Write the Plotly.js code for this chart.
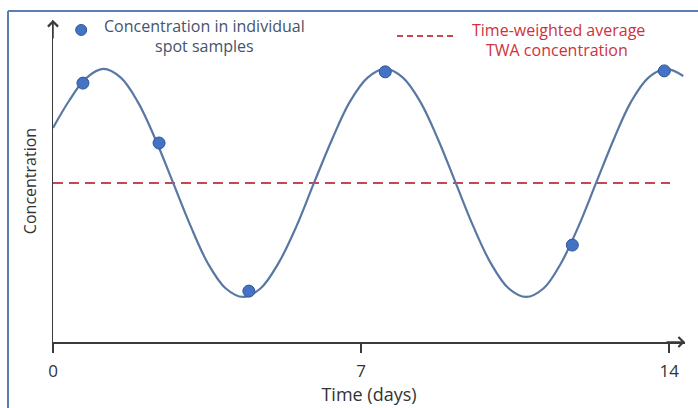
<!DOCTYPE html>
<html>
<head>
<meta charset="utf-8">
<script src="https://cdn.plot.ly/plotly-3.0.1.min.js"></script>
<style>
html,body{margin:0;padding:0;background:#fff;}
#chart{width:698px;height:408px;}
</style>
</head>
<body>
<div id="chart"></div>
<script>
// Continuous concentration curve (time in days, concentration in arbitrary units)
const curveDays = [0.00, 0.37, 0.74, 1.14, 1.54, 1.93, 2.33, 2.73, 3.13, 3.52, 3.92, 4.32,
                   4.72, 5.12, 5.53, 5.93, 6.34, 6.74, 7.15, 7.55,
                   7.95, 8.35, 8.75, 9.15, 9.55, 9.95, 10.35, 10.75,
                   11.15, 11.54, 11.94, 12.34, 12.74, 13.13, 13.53, 13.93, 14.32];
const curveConc = [66.5, 75.0, 81.8, 84.8, 82.1, 74.5, 62.9, 49.4, 35.9, 24.4, 16.7, 14.0,
                   16.7, 24.4, 35.9, 49.4, 62.9, 74.5, 82.1, 84.8,
                   82.1, 74.5, 62.9, 49.4, 35.9, 24.4, 16.7, 14.0,
                   16.7, 24.4, 35.9, 49.4, 62.9, 74.5, 82.1, 84.8, 82.6];

// Individual spot samples
const sampleDays = [0.68, 2.41, 4.45, 7.55, 11.80, 13.89];
const sampleConc = [80.4, 61.8, 15.8, 83.9, 30.1, 84.2];

// Time-weighted average
const twaDays = [0, 14.02];
const twaConc = [49.4, 49.4];

// Axis ticks
const tickVals = [0, 7, 14];
const tickText = ['0', '7', '14'];

// Legend marker sample position
const legendMarkerDay = [0.64];
const legendMarkerConc = [96.9];

const xMax = 14.36;
const yMax = 100;

const FONT = '"Open Sans", Lato, sans-serif';
const H = 408, T = 20, B = 66, L = 53, R = 13;
const py = p => 1 - (p - T) / (H - T - B);   // pixel row -> paper y
const px = p => (p - L) / (698 - L - R);      // pixel col -> paper x

const traces = [
  {
    x: twaDays, y: twaConc, type: 'scatter', mode: 'lines',
    line: {color: '#c9454f', width: 2, dash: '10px,6px'},
    hoverinfo: 'skip', showlegend: false
  },
  {
    x: curveDays, y: curveConc, type: 'scatter', mode: 'lines',
    line: {color: '#5878a3', width: 2.2, shape: 'spline', smoothing: 1},
    hoverinfo: 'skip', showlegend: false
  },
  {
    x: sampleDays, y: sampleConc, type: 'scatter', mode: 'markers',
    marker: {color: '#4472c4', size: 12, line: {color: '#2f5597', width: 1}},
    hoverinfo: 'skip', showlegend: false
  },
  {
    x: legendMarkerDay, y: legendMarkerConc, type: 'scatter', mode: 'markers',
    marker: {color: '#4472c4', size: 11, line: {color: '#2f5597', width: 1}},
    hoverinfo: 'skip', showlegend: false, cliponaxis: false
  }
];

const legendBlue = {family: FONT, size: 16, color: '#44546a'};
const legendRed = {family: FONT, size: 16, color: '#d0313b'};

const layout = {
  width: 698, height: 408,
  margin: {l: L, r: R, t: T, b: B},
  paper_bgcolor: '#ffffff', plot_bgcolor: '#ffffff',
  font: {family: FONT, size: 14, color: '#333333'},
  xaxis: {
    range: [0, xMax], showgrid: false, zeroline: false,
    showline: true, linecolor: '#3a3a3a', linewidth: 1.5,
    tickmode: 'array', tickvals: tickVals, ticktext: tickText,
    ticks: 'outside', ticklen: 9, tickwidth: 1.5, tickcolor: '#3a3a3a',
    ticklabelstandoff: 4,
    tickfont: {family: FONT, size: 17, color: '#333333'},
    title: {text: 'Time (days)', font: {family: FONT, size: 18, color: '#333333'}, standoff: 6},
    fixedrange: true
  },
  yaxis: {
    range: [0, yMax], showgrid: false, zeroline: false,
    showline: true, linecolor: '#3a3a3a', linewidth: 1.5,
    showticklabels: false, ticks: '',
    title: {text: 'Concentration', font: {family: FONT, size: 16, color: '#333333'}, standoff: 11},
    fixedrange: true
  },
  shapes: [
    {type: 'line', xref: 'paper', yref: 'paper', x0: px(8), x1: px(8), y0: py(420), y1: py(11),
     line: {color: '#5d7fae', width: 2}},
    {type: 'line', xref: 'paper', yref: 'paper', x0: px(8), x1: px(710), y0: py(11), y1: py(11),
     line: {color: '#5d7fae', width: 2}},
    {type: 'line', xref: 'paper', yref: 'paper', x0: px(397), x1: px(455), y0: py(36), y1: py(36),
     line: {color: '#c9454f', width: 2, dash: '6px,4px'}}
  ],
  annotations: [
    {x: xMax, y: 0, xref: 'x', yref: 'y', ax: -20, ay: 0,
     showarrow: true, arrowhead: 4, arrowsize: 1.3, arrowwidth: 1.5, arrowcolor: '#3a3a3a', text: ''},
    {x: 0, y: yMax, xref: 'x', yref: 'y', ax: 0, ay: 20,
     showarrow: true, arrowhead: 4, arrowsize: 1.3, arrowwidth: 1.5, arrowcolor: '#3a3a3a', text: ''},
    {xref: 'paper', yref: 'paper', x: px(204), y: py(26), xanchor: 'center', yanchor: 'middle',
     showarrow: false, text: 'Concentration in individual', font: legendBlue},
    {xref: 'paper', yref: 'paper', x: px(204), y: py(46), xanchor: 'center', yanchor: 'middle',
     showarrow: false, text: 'spot samples', font: legendBlue},
    {xref: 'paper', yref: 'paper', x: px(558), y: py(30), xanchor: 'center', yanchor: 'middle',
     showarrow: false, text: 'Time-weighted average', font: legendRed},
    {xref: 'paper', yref: 'paper', x: px(557), y: py(50), xanchor: 'center', yanchor: 'middle',
     showarrow: false, text: 'TWA concentration', font: legendRed}
  ]
};

Plotly.newPlot('chart', traces, layout, {displayModeBar: false, staticPlot: true});
</script>
</body>
</html>
